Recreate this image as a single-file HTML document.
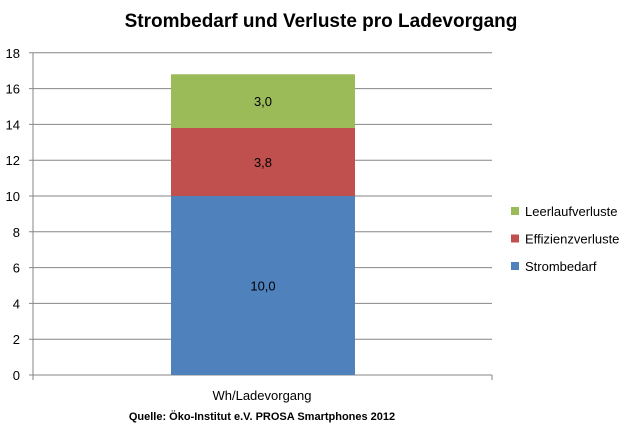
<!DOCTYPE html>
<html><head><meta charset="utf-8"><style>
body{margin:0;background:#fff;font-family:"Liberation Sans",sans-serif}
svg text{font-family:"Liberation Sans",sans-serif}
</style></head><body>
<svg width="642" height="436" viewBox="0 0 642 436">
<text x="321" y="27" text-anchor="middle" font-size="19" font-weight="bold" fill="#000">Strombedarf und Verluste pro Ladevorgang</text>
<g id="grid"></g><g id="bars"></g><g id="legend"></g>
<text x="262" y="400" text-anchor="middle" font-size="13" fill="#000">Wh/Ladevorgang</text>
<text x="262" y="420" text-anchor="middle" font-size="11" font-weight="bold" fill="#000">Quelle: Öko-Institut e.V. PROSA Smartphones 2012</text>
</svg>
<script>
const yTicks=[0,2,4,6,8,10,12,14,16,18];
const seriesNames=["Strombedarf","Effizienzverluste","Leerlaufverluste"];
const seriesValues=[10.0,3.8,3.0];
const valueLabels=["10,0","3,8","3,0"];
const colors=["#4f81bd","#c0504d","#9bbb59"];
const NS="http://www.w3.org/2000/svg";
const x0=33,x1=492,yZero=375,pxPer=17.9;
const y=v=>yZero-v*pxPer;
function mk(t,a,p){const e=document.createElementNS(NS,t);for(const k in a)e.setAttribute(k,a[k]);p.appendChild(e);return e;}
const g=document.getElementById('grid');
yTicks.forEach(t=>{
 const l=mk('line',{x1:x0-4,x2:x1,y1:y(t),y2:y(t),stroke:'#868686','stroke-width':1},g);
 
 
 const tx=mk('text',{x:20,y:y(t)+5,'text-anchor':'end','font-size':13,fill:'#000'},g);
 tx.textContent=t;
 
 
});
const ax=mk('line',{x1:x0,x2:x0,y1:y(18),y2:yZero+5,stroke:'#868686'},g);


const rt=mk('line',{x1:x1,x2:x1,y1:yZero,y2:yZero+5,stroke:'#868686'},g);


const b=document.getElementById('bars');
let base=0;
seriesValues.forEach((v,i)=>{
 const r=mk('rect',{x:171,width:184,y:y(base+v),height:v*pxPer,fill:colors[i]},b);
 
 
 const t=mk('text',{x:263,y:y(base+v/2)+5,'text-anchor':'middle','font-size':13,fill:'#000'},b);
 t.textContent=valueLabels[i];
 
 
 base+=v;
});
const lg=document.getElementById('legend');
[2,1,0].forEach((i,k)=>{
 const cy=211+k*27.5;
 const r=mk('rect',{x:511,y:cy-4,width:8,height:8,fill:colors[i]},lg);
 
 
 const t=mk('text',{x:525,y:cy+5,'font-size':13,fill:'#000'},lg);
 t.textContent=seriesNames[i];
 
 
});
</script>
</body></html>
